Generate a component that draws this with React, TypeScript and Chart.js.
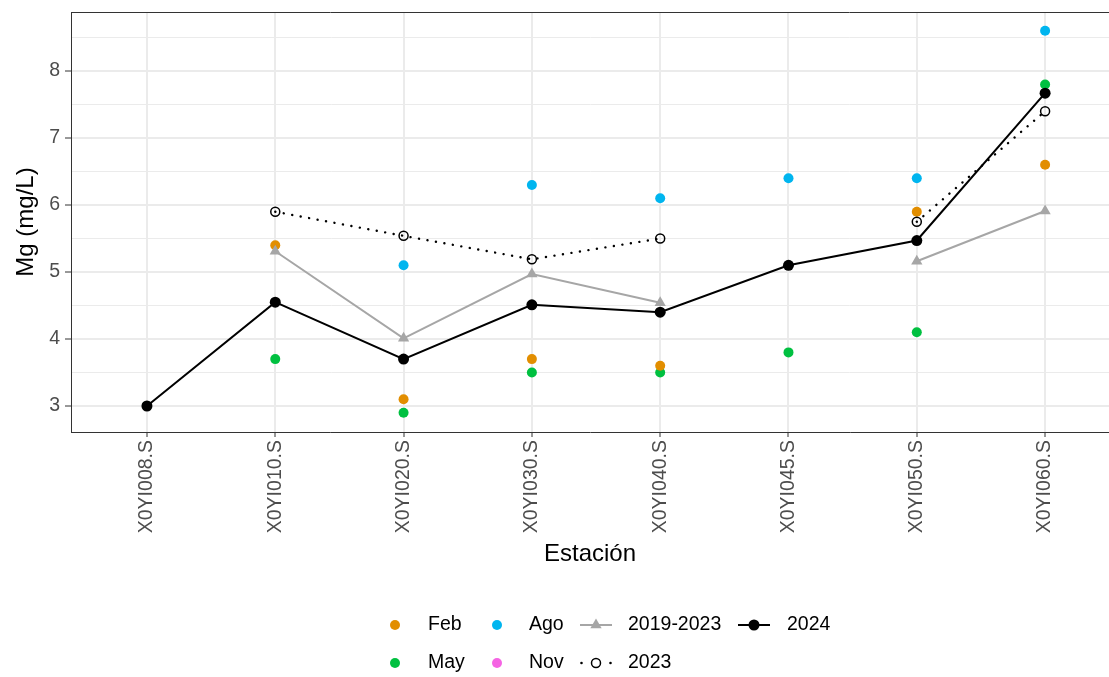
import React, { useEffect, useRef } from 'react';
import { Chart, registerables } from 'chart.js';

Chart.register(...registerables);

const stations = ['X0YI008.S', 'X0YI010.S', 'X0YI020.S', 'X0YI030.S', 'X0YI040.S', 'X0YI045.S', 'X0YI050.S', 'X0YI060.S'];
const febValues = [null, 5.4, 3.1, 3.7, 3.6, null, 5.9, 6.6];
const mayValues = [3.0, 3.7, 2.9, 3.5, 3.5, 3.8, 4.1, 7.8];
const agoValues = [null, null, 5.1, 6.3, 6.1, 6.4, 6.4, 8.6];
const novValues = [null, null, null, null, null, null, null, null];
const hist1923Values = [null, 5.31, 4.01, 4.97, 4.54, null, 5.16, 5.91];
const y2023Values = [null, 5.9, 5.54, 5.19, 5.5, null, 5.75, 7.4];
const y2024Values = [3.0, 4.55, 3.7, 4.51, 4.4, 5.1, 5.47, 7.67];
const yMajorTicks = [3, 4, 5, 6, 7, 8];
const yMinorTicks = [3.5, 4.5, 5.5, 6.5, 7.5, 8.5];

const COL_FEB = '#E28E00';
const COL_MAY = '#00C040';
const COL_AGO = '#00B5EF';
const COL_NOV = '#F564E3';
const COL_HIST = '#A6A6A6';
const FONT = "'Liberation Sans', Arial, Helvetica, sans-serif";

const toPoints = (arr: (number | null)[]) => arr.map((v, i) => ({ x: i, y: v }));

const zeroPadding = (scale: any) => {
  scale.paddingTop = 0;
  scale.paddingBottom = 0;
  scale.paddingLeft = 0;
  scale.paddingRight = 0;
};

const legendPlugin = {
  id: 'ggLegend',
  afterDraw(chart: any) {
    const ctx = chart.ctx as CanvasRenderingContext2D;
    const area = chart.chartArea;
    ctx.save();
    // panel top border
    ctx.strokeStyle = '#333333';
    ctx.lineWidth = 1;
    ctx.beginPath();
    ctx.moveTo(area.left, area.top + 0.5);
    ctx.lineTo(area.right, area.top + 0.5);
    ctx.stroke();

    const r1 = 625;
    const r2 = 663;
    const dot = (x: number, y: number, r: number, c: string) => {
      ctx.beginPath();
      ctx.arc(x, y, r, 0, Math.PI * 2);
      ctx.fillStyle = c;
      ctx.fill();
    };
    const text = (t: string, x: number, y: number) => {
      ctx.fillStyle = '#000000';
      ctx.font = `19.5px ${FONT}`;
      ctx.textAlign = 'left';
      ctx.textBaseline = 'middle';
      ctx.fillText(t, x, y);
    };
    dot(395, r1, 5, COL_FEB);
    text('Feb', 428, r1);
    dot(497, r1, 5, COL_AGO);
    text('Ago', 529, r1);
    // 2019-2023
    ctx.strokeStyle = COL_HIST;
    ctx.lineWidth = 2;
    ctx.beginPath();
    ctx.moveTo(580, r1);
    ctx.lineTo(612, r1);
    ctx.stroke();
    const tr = 6.5;
    ctx.beginPath();
    ctx.moveTo(596, r1 - tr);
    ctx.lineTo(596 + tr * Math.sin((2 * Math.PI) / 3), r1 + tr / 2);
    ctx.lineTo(596 - tr * Math.sin((2 * Math.PI) / 3), r1 + tr / 2);
    ctx.closePath();
    ctx.fillStyle = COL_HIST;
    ctx.fill();
    text('2019-2023', 628, r1);
    // 2024
    ctx.strokeStyle = '#000000';
    ctx.beginPath();
    ctx.moveTo(738, r1);
    ctx.lineTo(770, r1);
    ctx.stroke();
    dot(754, r1, 5.5, '#000000');
    text('2024', 787, r1);

    dot(395, r2, 5, COL_MAY);
    text('May', 428, r2);
    dot(497, r2, 5, COL_NOV);
    text('Nov', 529, r2);
    // 2023
    ctx.fillStyle = '#000000';
    ctx.beginPath();
    ctx.arc(581.5, r2, 1.3, 0, Math.PI * 2);
    ctx.arc(610.5, r2, 1.3, 0, Math.PI * 2);
    ctx.fill();
    ctx.beginPath();
    ctx.arc(596, r2, 4.5, 0, Math.PI * 2);
    ctx.strokeStyle = '#000000';
    ctx.lineWidth = 1.5;
    ctx.stroke();
    text('2023', 628, r2);
    ctx.restore();
  },
};

export default function App() {
  const canvasRef = useRef<HTMLCanvasElement | null>(null);

  useEffect(() => {
    if (!canvasRef.current) return;
    const majorSet = new Set(yMajorTicks);
    const chart = new Chart(canvasRef.current, {
      type: 'line',
      data: {
        datasets: [
          {
            label: '2024',
            data: toPoints(y2024Values),
            borderColor: '#000000',
            borderWidth: 2,
            pointRadius: 5.5,
            pointBackgroundColor: '#000000',
            pointBorderWidth: 0,
            spanGaps: false,
          },
          {
            label: '2023',
            data: toPoints(y2023Values),
            borderColor: '#000000',
            borderWidth: 2.4,
            borderDash: [0.1, 8.5],
            borderCapStyle: 'round',
            pointRadius: 4.5,
            pointBackgroundColor: 'rgba(0,0,0,0)',
            pointBorderColor: '#000000',
            pointBorderWidth: 1.5,
            spanGaps: false,
          },
          {
            label: '2019-2023',
            data: toPoints(hist1923Values),
            borderColor: COL_HIST,
            borderWidth: 2,
            pointStyle: 'triangle',
            pointRadius: 6.5,
            pointBackgroundColor: COL_HIST,
            pointBorderWidth: 0,
            spanGaps: false,
          },
          { label: 'Feb', data: toPoints(febValues), showLine: false, pointRadius: 5, pointBackgroundColor: COL_FEB, pointBorderWidth: 0 },
          { label: 'May', data: toPoints(mayValues), showLine: false, pointRadius: 5, pointBackgroundColor: COL_MAY, pointBorderWidth: 0 },
          { label: 'Ago', data: toPoints(agoValues), showLine: false, pointRadius: 5, pointBackgroundColor: COL_AGO, pointBorderWidth: 0 },
          { label: 'Nov', data: toPoints(novValues), showLine: false, pointRadius: 5, pointBackgroundColor: COL_NOV, pointBorderWidth: 0 },
        ] as any,
      },
      options: {
        animation: false,
        responsive: false,
        maintainAspectRatio: false,
        layout: { autoPadding: false, padding: { top: 12, left: 0, right: 0, bottom: 108 } },
        plugins: { legend: { display: false }, tooltip: { enabled: false } },
        scales: {
          x: {
            type: 'linear',
            min: -0.592,
            max: 7.498,
            afterBuildTicks: (scale: any) => {
              scale.ticks = stations.map((_, i) => ({ value: i }));
            },
            afterFit: (scale: any) => {
              scale.height = 137;
              zeroPadding(scale);
            },
            ticks: {
              autoSkip: false,
              minRotation: 90,
              maxRotation: 90,
              padding: 3,
              color: '#4D4D4D',
              font: { family: FONT, size: 19.5 },
              callback: (v: any) => stations[Math.round(Number(v))] ?? '',
            },
            grid: {
              color: '#EBEBEB',
              lineWidth: 2,
              tickColor: '#333333',
              tickLength: 5,
              tickWidth: 1,
            },
            border: { display: true, color: '#333333', width: 1 },
            title: {
              display: true,
              text: 'Estación',
              color: '#000000',
              font: { family: FONT, size: 24 },
              padding: { top: 0, bottom: 0 },
            },
          },
          y: {
            type: 'linear',
            min: 2.612,
            max: 8.881,
            afterBuildTicks: (scale: any) => {
              scale.ticks = [...yMajorTicks, ...yMinorTicks].sort((a, b) => a - b).map((v) => ({ value: v }));
            },
            afterFit: (scale: any) => {
              scale.width = 71;
              zeroPadding(scale);
            },
            ticks: {
              autoSkip: false,
              padding: 5,
              color: '#4D4D4D',
              font: { family: FONT, size: 19.5 },
              callback: (v: any) => (majorSet.has(Number(v)) ? String(v) : ''),
            },
            grid: {
              color: '#EBEBEB',
              lineWidth: (c: any) => (c.tick && majorSet.has(c.tick.value) ? 2 : 1),
              tickColor: (c: any) => (c.tick && majorSet.has(c.tick.value) ? '#333333' : 'rgba(0,0,0,0)'),
              tickLength: 6,
              tickWidth: 1,
            },
            border: { display: true, color: '#333333', width: 1 },
            title: {
              display: true,
              text: 'Mg (mg/L)',
              color: '#000000',
              font: { family: FONT, size: 24 },
              padding: { top: 12, bottom: 0 },
            },
          },
        },
      } as any,
      plugins: [legendPlugin],
    });
    return () => chart.destroy();
  }, []);

  return (
    <div style={{ position: 'fixed', left: 0, top: 0, width: 1109, height: 677, background: '#ffffff' }}>
      <canvas ref={canvasRef} width={1109} height={677} style={{ display: 'block' }} />
    </div>
  );
}
